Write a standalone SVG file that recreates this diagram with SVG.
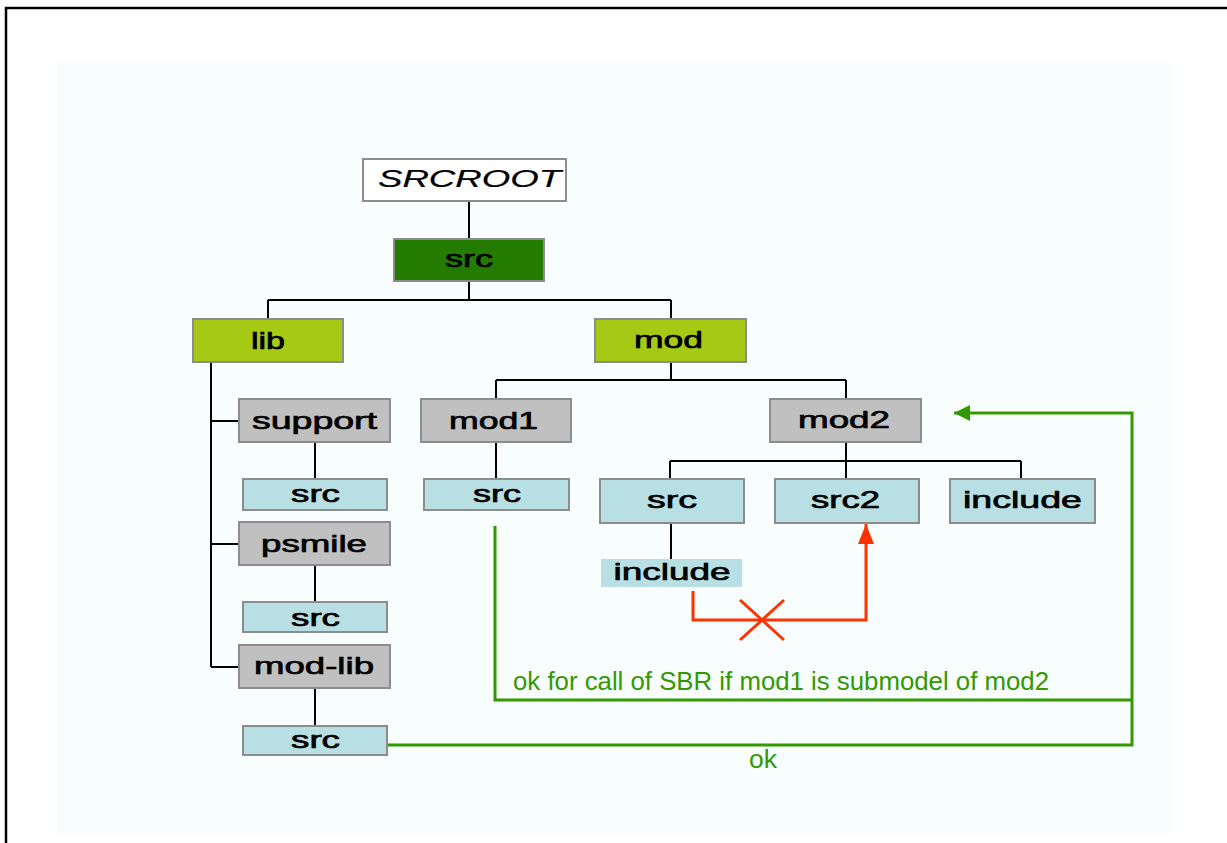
<svg xmlns="http://www.w3.org/2000/svg" width="1227" height="843" viewBox="0 0 1227 843">
<defs>
<style>
.lbl{font-family:"Liberation Sans",Arial,sans-serif;font-size:24px;font-weight:normal;fill:#000;stroke:#000;stroke-width:0.7;text-anchor:middle}
.box{stroke:#8c8c8c;stroke-width:2}
.gray{fill:#c0c0c0}
.blue{fill:#b8dfe3}
.lime{fill:#a6c916}
.conn{stroke:#000;stroke-width:2;fill:none}
.green{stroke:#339900;stroke-width:3;fill:none}
.red{stroke:#ff3300;stroke-width:3;fill:none}
.gtxt{font-family:"Liberation Sans",Arial,sans-serif;font-size:26px;fill:#339900}
</style>
<marker id="ga" markerUnits="userSpaceOnUse" markerWidth="18" markerHeight="18" refX="16" refY="8" orient="auto">
<path d="M0,0 L16,8 L0,16 z" fill="#339900"/>
</marker>
<marker id="ra" markerUnits="userSpaceOnUse" markerWidth="22" markerHeight="18" refX="20" refY="8" orient="auto">
<path d="M0,0 L20,8 L0,16 z" fill="#ff3300"/>
</marker>
</defs>
<rect x="6" y="8" width="1240" height="860" fill="#fff" stroke="#000" stroke-width="2.5"/>
<rect x="57" y="63" width="1116" height="770" fill="#f8fdfd"/>

<g id="connectors">
<path class="conn" d="M469 201V239M469 281V300M268 300H671M268 300V319M671 300V319M671 362V380M496 380H846M496 380V399M846 380V399M496 442V479"/>
<path class="conn" d="M211 362V667M211 421H239M211 544H239M211 667H239M315 442V479M315 565V602M315 688V726"/>
<path class="conn" d="M846 442V461M670 461H1021M670 461V479M846 461V479M1021 461V479M671 523V559"/>
<path class="green" d="M387 745H1132V413H954" marker-end="url(#ga)"/>
<path class="green" d="M495 526V700H1132"/>
<path class="red" d="M693 591V620H866V524" marker-end="url(#ra)"/>
<path class="red" d="M740 600L784 640M740 640L784 600"/>
</g>

<g id="n-srcroot"><rect x="363" y="159" width="203" height="42" fill="#fff" class="box"/><text x="469.5" y="187" class="lbl" style="font-style:italic;stroke-width:0.2" textLength="183" lengthAdjust="spacingAndGlyphs">SRCROOT</text></g>
<g id="n-src"><rect x="394" y="239" width="150" height="42" fill="#237b00" class="box"/><text x="469" y="267" class="lbl" textLength="48" lengthAdjust="spacingAndGlyphs">src</text></g>
<g id="n-lib"><rect x="193" y="319" width="150" height="43" class="box lime"/><text x="268" y="349" class="lbl" textLength="34" lengthAdjust="spacingAndGlyphs">lib</text></g>
<g id="n-mod"><rect x="595" y="319" width="151" height="43" class="box lime"/><text x="668.5" y="348" class="lbl" textLength="69" lengthAdjust="spacingAndGlyphs">mod</text></g>
<g id="n-support"><rect x="239" y="399" width="151" height="43" class="box gray"/><text x="314.5" y="429" class="lbl" textLength="125" lengthAdjust="spacingAndGlyphs">support</text></g>
<g id="n-support-src"><rect x="243" y="479" width="144" height="31" class="box blue"/><text x="315.5" y="502" class="lbl" textLength="49" lengthAdjust="spacingAndGlyphs">src</text></g>
<g id="n-psmile"><rect x="239" y="522" width="151" height="43" class="box gray"/><text x="314" y="552" class="lbl" textLength="106" lengthAdjust="spacingAndGlyphs">psmile</text></g>
<g id="n-psmile-src"><rect x="243" y="602" width="144" height="30" class="box blue"/><text x="315.5" y="626" class="lbl" textLength="49" lengthAdjust="spacingAndGlyphs">src</text></g>
<g id="n-modlib"><rect x="239" y="645" width="151" height="43" class="box gray"/><text x="314" y="674" class="lbl" textLength="120" lengthAdjust="spacingAndGlyphs">mod-lib</text></g>
<g id="n-modlib-src"><rect x="243" y="726" width="144" height="29" class="box blue"/><text x="315.5" y="748" class="lbl" textLength="49" lengthAdjust="spacingAndGlyphs">src</text></g>
<g id="n-mod1"><rect x="421" y="399" width="150" height="43" class="box gray"/><text x="493.5" y="429" class="lbl" textLength="89" lengthAdjust="spacingAndGlyphs">mod1</text></g>
<g id="n-mod1-src"><rect x="424" y="479" width="145" height="31" class="box blue"/><text x="497" y="502" class="lbl" textLength="48" lengthAdjust="spacingAndGlyphs">src</text></g>
<g id="n-mod2"><rect x="770" y="399" width="151" height="43" class="box gray"/><text x="844" y="428" class="lbl" textLength="92" lengthAdjust="spacingAndGlyphs">mod2</text></g>
<g id="n-mod2-src"><rect x="600" y="479" width="144" height="44" class="box blue"/><text x="672" y="508" class="lbl" textLength="50" lengthAdjust="spacingAndGlyphs">src</text></g>
<g id="n-src2"><rect x="775" y="479" width="144" height="44" class="box blue"/><text x="845.5" y="508" class="lbl" textLength="69" lengthAdjust="spacingAndGlyphs">src2</text></g>
<g id="n-include"><rect x="950" y="479" width="145" height="44" class="box blue"/><text x="1022.5" y="508" class="lbl" textLength="119" lengthAdjust="spacingAndGlyphs">include</text></g>
<g id="n-include2"><rect x="601" y="559" width="141" height="28" class="blue"/><text x="672" y="580" class="lbl" textLength="117" lengthAdjust="spacingAndGlyphs">include</text></g>

<text x="513" y="690" class="gtxt" textLength="536" lengthAdjust="spacingAndGlyphs">ok for call of SBR if mod1 is submodel of mod2</text>
<text x="749" y="768" class="gtxt" textLength="28" lengthAdjust="spacingAndGlyphs">ok</text>
</svg>
